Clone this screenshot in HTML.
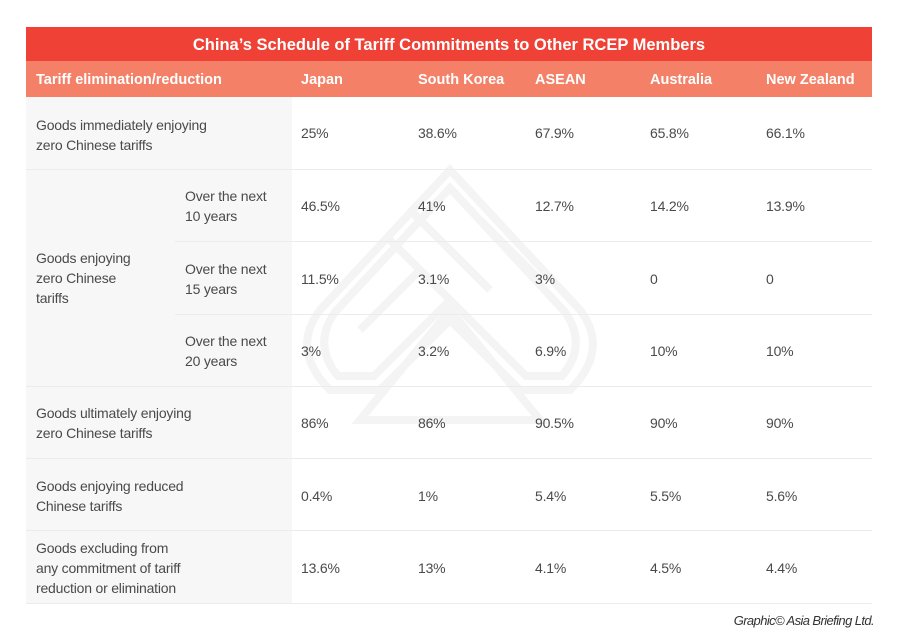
<!DOCTYPE html>
<html><head><meta charset="utf-8"><style>
body{margin:0;width:900px;height:644px;background:#fff;position:relative;font-family:"Liberation Sans",sans-serif;overflow:hidden}
.a{position:absolute}
.t{position:absolute;font-size:14px;color:#4a4a4a;line-height:20px;letter-spacing:-0.2px}
.h{position:absolute;font-size:14.5px;color:#fff;font-weight:bold;line-height:20px}
.ln{position:absolute;height:1px;background:#ececec}
</style></head><body>
<div class="a" style="left:26px;top:97px;width:266px;height:507px;background:#f7f7f7"></div>
<svg class="a" style="left:290px;top:150px" width="320" height="290" viewBox="0 0 320 290">
<g fill="none" stroke="#f4f4f4" stroke-width="8">
<path d="M160 20 L290 160 Q320 200 280 240 L230 240 L160 170 L90 240 L40 240 Q0 200 30 160 Z"/>
<path d="M160 38 L275 162 Q298 195 272 226 L236 226 L160 150 L84 226 L48 226 Q22 195 45 162 Z"/>
<path d="M160 160 L250 270 L70 270 Z"/>
<path d="M120 60 L200 140 M100 90 L180 170 M190 70 L250 130 M130 120 L70 180"/>
</g></svg>
<div class="a" style="left:26px;top:27px;width:846px;height:34px;background:#ef4135"></div>
<div class="a" style="left:26px;top:61px;width:846px;height:36px;background:#f38067"></div>
<div class="h" style="left:0;width:898px;text-align:center;top:35px;font-size:16.5px">China’s Schedule of Tariff Commitments to Other RCEP Members</div>
<div class="h" style="left:36px;top:70px">Tariff elimination/reduction</div>
<div class="h" style="left:301px;top:70px">Japan</div>
<div class="h" style="left:418px;top:70px">South Korea</div>
<div class="h" style="left:535px;top:70px">ASEAN</div>
<div class="h" style="left:650px;top:70px">Australia</div>
<div class="h" style="left:766px;top:70px">New Zealand</div>

<div class="ln" style="left:26px;top:169px;width:846px"></div>
<div class="ln" style="left:175px;top:241px;width:697px"></div>
<div class="ln" style="left:175px;top:314px;width:697px"></div>
<div class="ln" style="left:26px;top:386px;width:846px"></div>
<div class="ln" style="left:26px;top:458px;width:846px"></div>
<div class="ln" style="left:26px;top:530px;width:846px"></div>
<div class="ln" style="left:26px;top:603px;width:846px"></div>

<div class="t" style="left:36px;top:115px">Goods immediately enjoying<br>zero Chinese tariffs</div>
<div class="t" style="left:36px;top:248px">Goods enjoying<br>zero Chinese<br>tariffs</div>
<div class="t" style="left:185px;top:186px">Over the next<br>10 years</div>
<div class="t" style="left:185px;top:259px">Over the next<br>15 years</div>
<div class="t" style="left:185px;top:331px">Over the next<br>20 years</div>
<div class="t" style="left:36px;top:403px">Goods ultimately enjoying<br>zero Chinese tariffs</div>
<div class="t" style="left:36px;top:476px">Goods enjoying reduced<br>Chinese tariffs</div>
<div class="t" style="left:36px;top:538px">Goods excluding from<br>any commitment of tariff<br>reduction or elimination</div>

<div class="t" style="left:301px;top:123px">25%</div><div class="t" style="left:418px;top:123px">38.6%</div><div class="t" style="left:535px;top:123px">67.9%</div><div class="t" style="left:650px;top:123px">65.8%</div><div class="t" style="left:766px;top:123px">66.1%</div>
<div class="t" style="left:301px;top:196px">46.5%</div><div class="t" style="left:418px;top:196px">41%</div><div class="t" style="left:535px;top:196px">12.7%</div><div class="t" style="left:650px;top:196px">14.2%</div><div class="t" style="left:766px;top:196px">13.9%</div>
<div class="t" style="left:301px;top:269px">11.5%</div><div class="t" style="left:418px;top:269px">3.1%</div><div class="t" style="left:535px;top:269px">3%</div><div class="t" style="left:650px;top:269px">0</div><div class="t" style="left:766px;top:269px">0</div>
<div class="t" style="left:301px;top:341px">3%</div><div class="t" style="left:418px;top:341px">3.2%</div><div class="t" style="left:535px;top:341px">6.9%</div><div class="t" style="left:650px;top:341px">10%</div><div class="t" style="left:766px;top:341px">10%</div>
<div class="t" style="left:301px;top:413px">86%</div><div class="t" style="left:418px;top:413px">86%</div><div class="t" style="left:535px;top:413px">90.5%</div><div class="t" style="left:650px;top:413px">90%</div><div class="t" style="left:766px;top:413px">90%</div>
<div class="t" style="left:301px;top:486px">0.4%</div><div class="t" style="left:418px;top:486px">1%</div><div class="t" style="left:535px;top:486px">5.4%</div><div class="t" style="left:650px;top:486px">5.5%</div><div class="t" style="left:766px;top:486px">5.6%</div>
<div class="t" style="left:301px;top:558px">13.6%</div><div class="t" style="left:418px;top:558px">13%</div><div class="t" style="left:535px;top:558px">4.1%</div><div class="t" style="left:650px;top:558px">4.5%</div><div class="t" style="left:766px;top:558px">4.4%</div>

<div class="t" style="right:26px;top:611px;font-style:italic;font-size:13px;color:#333;letter-spacing:-0.6px">Graphic© Asia Briefing Ltd.</div>
</body></html>
